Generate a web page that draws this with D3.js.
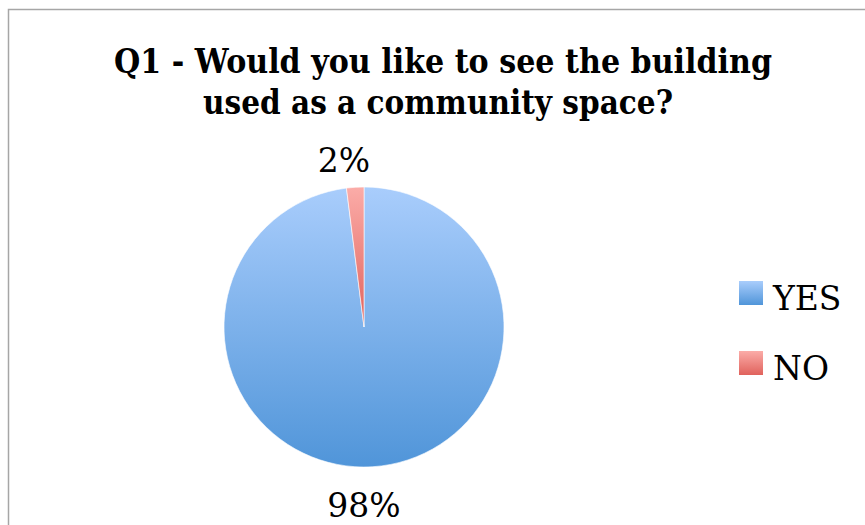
<!DOCTYPE html>
<html>
<head>
<meta charset="utf-8">
<script src="https://cdn.jsdelivr.net/npm/d3@7"></script>
<style>
  body { margin: 0; background: #fff; }
  svg { display: block; }
  text { font-family: "DejaVu Serif", serif; }
</style>
</head>
<body>
<svg id="chart" width="865" height="525"></svg>
<script>
// data
var categories = ["YES", "NO"];
var values = [98, 2];
var pctLabels = ["98%", "2%"];
var titleLines = ["Q1 - Would you like to see the building", "used as a community space?"];

var width = 865, height = 525;
var svg = d3.select("#chart");

// gradients, light at top going darker down
var gradColors = [["#a9cdfc", "#5095d9"], ["#fbaca8", "#e0625c"]];
var defs = svg.append("defs");
gradColors.forEach(function(c, i) {
  var g = defs.append("linearGradient")
    .attr("id", "grad" + i)
    .attr("x1", 0).attr("y1", 0).attr("x2", 0).attr("y2", 1);
  g.append("stop").attr("offset", "0%").attr("stop-color", c[0]);
  g.append("stop").attr("offset", "100%").attr("stop-color", c[1]);
});

// chart border (only top and left visible)
svg.append("rect")
  .attr("x", 8.5).attr("y", 9.5)
  .attr("width", 900).attr("height", 600)
  .attr("fill", "none")
  .attr("stroke", "#a6a6a6")
  .attr("stroke-width", 1.5);

// title - squeezed a bit to look like the condensed original
var titleX = [443, 438], titleW = [658, 470];
svg.selectAll("text.title")
  .data(titleLines)
  .enter()
  .append("text")
  .attr("class", "title")
  .attr("x", function(d, i) { return titleX[i]; })
  .attr("y", function(d, i) { return 73 + i * 41; })
  .attr("text-anchor", "middle")
  .attr("font-weight", "bold")
  .attr("font-size", 33)
  .attr("textLength", function(d, i) { return titleW[i]; })
  .attr("lengthAdjust", "spacingAndGlyphs")
  .attr("fill", "#000")
  .text(function(d) { return d; });

// pie
var cx = 364, cy = 327, r = 140;
var pie = d3.pie().sort(null).value(function(d) { return d; });
var arcs = pie(values);
var arc = d3.arc().innerRadius(0).outerRadius(r);

var g = svg.append("g").attr("transform", "translate(" + cx + "," + cy + ")");
g.selectAll("path")
  .data(arcs)
  .enter()
  .append("path")
  .attr("d", arc)
  .attr("fill", function(d, i) { return "url(#grad" + i + ")"; })
  .attr("stroke", "#ffffff")
  .attr("stroke-width", 0.6);

// outside labels
var labelArc = d3.arc().innerRadius(r + 35).outerRadius(r + 35);
g.selectAll("text.pct")
  .data(arcs)
  .enter()
  .append("text")
  .attr("class", "pct")
  .attr("x", function(d, i) { return i == 0 ? 0 : labelArc.centroid(d)[0] - 9; })
  .attr("y", function(d, i) { return i == 0 ? r + 50 : -r - 15; })
  .attr("text-anchor", "middle")
  .attr("font-size", 33)
  .attr("fill", "#000")
  .text(function(d, i) { return pctLabels[i]; });

// legend
var legend = svg.append("g").attr("transform", "translate(739,281)");
var item = legend.selectAll("g")
  .data(categories)
  .enter()
  .append("g")
  .attr("transform", function(d, i) { return "translate(0," + i * 70 + ")"; });
item.append("rect")
  .attr("width", 24).attr("height", 24)
  .attr("fill", function(d, i) { return "url(#grad" + i + ")"; });
item.append("text")
  .attr("x", 34)
  .attr("y", 29)
  .attr("font-size", 33)
  .attr("fill", "#000")
  .text(function(d) { return d; });
</script>
</body>
</html>
